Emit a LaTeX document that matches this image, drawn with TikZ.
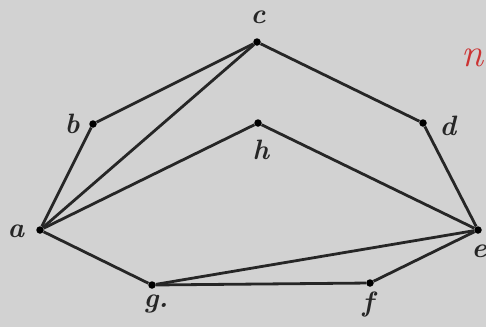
\documentclass[tikz,border=0pt]{standalone}
\usepackage{fontspec}
\begin{document}
\begin{tikzpicture}[x=1pt,y=-1pt,
  vtx/.style={circle,fill=black,inner sep=0pt,minimum size=7.5pt},
  lbl/.style={font=\fontsize{28}{28}\selectfont\bfseries\itshape,text=black!85,inner sep=0pt},
  edge/.style={line width=2.8pt,black!85}]
\useasboundingbox (0,0) rectangle (486,327);
\clip (0,0) rectangle (486,327);
\fill[gray!35!white] (0,0) rectangle (486,327);
\node[vtx] (c) at (257,42) {};
\node[vtx] (b) at (93,124) {};
\node[vtx] (d) at (423,123) {};
\node[vtx] (h) at (258,123) {};
\node[vtx] (a) at (40,230) {};
\node[vtx] (e) at (478,230) {};
\node[vtx] (g) at (152,285) {};
\node[vtx] (f) at (370,283) {};
\node[lbl] (lc) at (258,17) {c};
\node[lbl] (lb) at (72,124) {b};
\node[lbl] (ld) at (448,126) {d};
\node[lbl] (lh) at (261,150) {h};
\node[lbl] (la) at (16,231) {a};
\node[lbl] (le) at (479,251) {e};
\node[lbl] (lg) at (156,304) {g.};
\node[lbl] (lf) at (368,304) {f};
\node[font=\fontsize{40}{40}\selectfont\itshape,text=red!75!black!80,inner sep=0pt] (mark) at (472,58) {n};
\draw[edge] (a) -- (b) -- (c) -- (d) -- (e) -- (f) -- (g) -- (a);
\draw[edge] (a) -- (c);
\draw[edge] (a) -- (h) -- (e);
\draw[edge] (g) -- (e);
\end{tikzpicture}
\end{document}
